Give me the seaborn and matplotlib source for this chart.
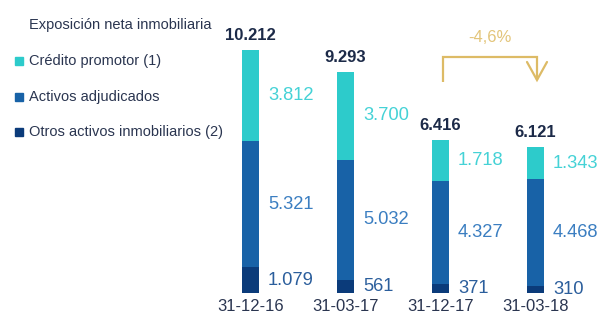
import matplotlib
matplotlib.use("Agg")
import matplotlib.pyplot as plt
import pandas as pd
import seaborn as sns
from matplotlib.patches import Rectangle

dates = ["31-12-16", "31-03-17", "31-12-17", "31-03-18"]
credito = [3812, 3700, 1718, 1343]
adjudicados = [5321, 5032, 4327, 4468]
otros = [1079, 561, 371, 310]
totals = [10212, 9293, 6416, 6121]
change_label = "-4,6%"

legend_title = "Exposición neta inmobiliaria"
legend_labels = ["Crédito promotor (1)", "Activos adjudicados", "Otros activos inmobiliarios (2)"]

c_teal = "#2DCBCB"
c_mid = "#1862A7"
c_dark = "#0B3B7A"
lab_teal = "#45D2D6"
lab_mid = "#3B7EC1"
lab_dark = "#2B5E9C"
c_text = "#2A3550"
c_gold = "#DDBB66"


def fmt(v):
    return f"{v:,}".replace(",", ".")


df = pd.DataFrame({"fecha": dates, "credito": credito, "adjudicados": adjudicados, "otros": otros})
df["low"] = df["otros"]
df["mid"] = df["otros"] + df["adjudicados"]
df["top"] = df["mid"] + df["credito"]

sns.set_style("white")
plt.rcParams["font.family"] = ["Liberation Sans", "DejaVu Sans"]

W, H = 599, 318
fig = plt.figure(figsize=(W / 100, H / 100), dpi=100)
ax = fig.add_axes([0, 0, 1, 1])

# stacked bars: draw cumulative totals on top of each other
bw = 0.18
for col, color in [("top", c_teal), ("mid", c_mid), ("low", c_dark)]:
    sns.barplot(data=df, x="fecha", y=col, color=color, width=bw, saturation=1,
                linewidth=0, ax=ax, order=dates)

# map data to pixel layout: centers 95px apart, first at 250.5px, baseline at 293px
px_x = 95.0
px_y = 243.0 / 10212
ax.set_xlim(-250.5 / px_x, (W - 250.5) / px_x)
ax.set_ylim(-(H - 293) / px_y, 293 / px_y)
ax.axis("off")

lx = bw / 2 + 9 / px_x
for i in range(len(dates)):
    o, a, c = otros[i], adjudicados[i], credito[i]
    ax.text(i + lx, o / 2, fmt(o), color=lab_dark, fontsize=13.2, va="center", ha="left")
    ax.text(i + lx, o + a / 2, fmt(a), color=lab_mid, fontsize=13.2, va="center", ha="left")
    ax.text(i + lx, o + a + c / 2, fmt(c), color=lab_teal, fontsize=13.2, va="center", ha="left")
    ax.annotate(fmt(totals[i]), (i, df["top"][i]), xytext=(0, 5), textcoords="offset points",
                ha="center", va="bottom", fontsize=12, fontweight="bold", color="#1C2A48")
    ax.annotate(dates[i], (i, 0), xytext=(0, -4), textcoords="offset points",
                ha="center", va="top", fontsize=12, color=c_text)

# change arrow between the last two bars
y_top = (293 - 57) / px_y
y_start = (293 - 82) / px_y
y_tip = (293 - 80) / px_y
y_arm = (293 - 62) / px_y
x0, x1 = 2 + 2.5 / px_x, 3 + 1.5 / px_x
ax.plot([x0, x0, x1, x1], [y_start, y_top, y_top, y_tip], color=c_gold, lw=1.6,
        solid_joinstyle="miter", solid_capstyle="butt")
ax.plot([x1 - 10 / px_x, x1, x1 + 10 / px_x], [y_arm, y_tip, y_arm], color=c_gold, lw=1.6,
        solid_joinstyle="miter")
ax.text((x0 + x1) / 2, (293 - 38) / px_y, change_label, color="#E3C57A", fontsize=12,
        ha="center", va="center")

# legend block on the left
fig.text(29 / W, 1 - 25 / H, legend_title, color=c_text, fontsize=10.5, va="center", ha="left")
for label, color, yc in zip(legend_labels, [c_teal, c_mid, c_dark], [61, 97, 132]):
    fig.patches.append(Rectangle((15 / W, 1 - (yc + 4) / H), 8 / W, 8 / H, color=color,
                                 transform=fig.transFigure, figure=fig))
    fig.text(29 / W, 1 - yc / H, label, color=c_text, fontsize=10.5, va="center", ha="left")

fig.savefig("out.png", dpi=100)
